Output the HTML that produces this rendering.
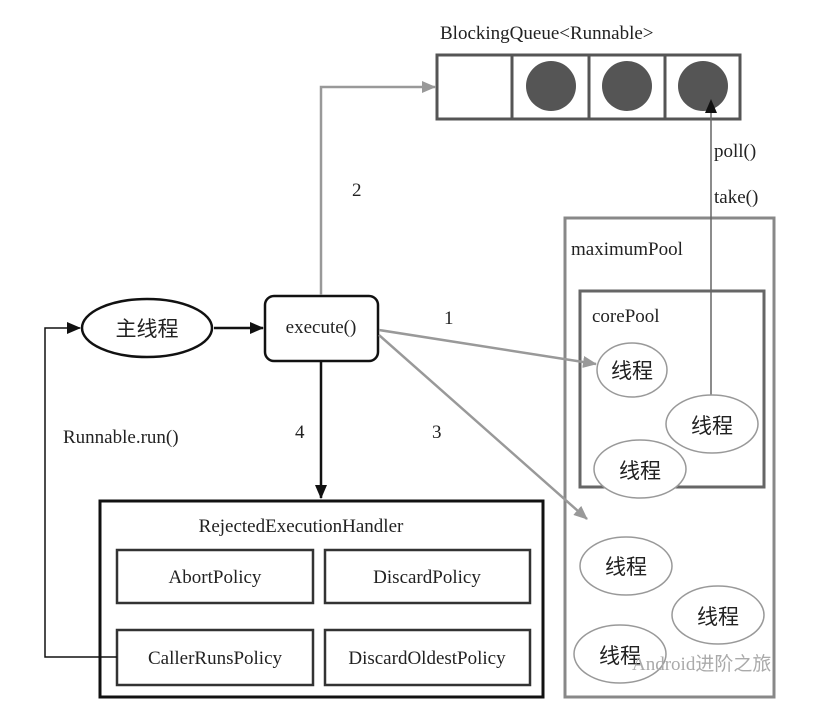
<!DOCTYPE html>
<html><head><meta charset="utf-8"><style>
html,body{margin:0;padding:0;background:#fff;}
svg{display:block;}
text{font-family:"Liberation Serif","Noto Serif CJK SC",serif;fill:#222;}
.cj{font-family:"Liberation Serif","Noto Sans CJK SC",sans-serif;}
</style></head><body>
<svg width="815" height="702" viewBox="0 0 815 702" xmlns="http://www.w3.org/2000/svg">
<defs>
<marker id="ab" markerWidth="14" markerHeight="12" refX="13" refY="6" orient="auto" markerUnits="userSpaceOnUse"><path d="M0,0 L14,6 L0,12 z" fill="#111"/></marker>
<marker id="ag" markerWidth="14" markerHeight="12" refX="13" refY="6" orient="auto" markerUnits="userSpaceOnUse"><path d="M0,0 L14,6 L0,12 z" fill="#999"/></marker>
</defs>
<text x="440" y="39" font-size="19">BlockingQueue&lt;Runnable&gt;</text>
<rect x="437" y="55" width="303" height="64" fill="none" stroke="#555" stroke-width="3"/>
<line x1="512" y1="55" x2="512" y2="119" stroke="#555" stroke-width="3"/>
<line x1="589" y1="55" x2="589" y2="119" stroke="#555" stroke-width="3"/>
<line x1="665" y1="55" x2="665" y2="119" stroke="#555" stroke-width="3"/>
<circle cx="551" cy="86" r="25" fill="#555"/>
<circle cx="627" cy="86" r="25" fill="#555"/>
<circle cx="703" cy="86" r="25" fill="#555"/>
<rect x="565" y="218" width="209" height="479" fill="none" stroke="#888" stroke-width="3"/>
<text x="571" y="255" font-size="19">maximumPool</text>
<rect x="580" y="291" width="184" height="196" fill="none" stroke="#666" stroke-width="3"/>
<text x="592" y="322" font-size="19">corePool</text>
<line x1="711" y1="400" x2="711" y2="100" stroke="#666" stroke-width="1.5" marker-end="url(#ab)"/>
<text x="714" y="157" font-size="19">poll()</text>
<text x="714" y="203" font-size="19">take()</text>
<g fill="#fff" stroke="#999" stroke-width="1.5">
<ellipse cx="632" cy="370" rx="35" ry="27"/>
<ellipse cx="712" cy="424" rx="46" ry="29"/>
<ellipse cx="640" cy="469" rx="46" ry="29"/>
<ellipse cx="626" cy="566" rx="46" ry="29"/>
<ellipse cx="718" cy="615" rx="46" ry="29"/>
<ellipse cx="620" cy="654" rx="46" ry="29"/>
</g>
<g font-size="21" text-anchor="middle">
<text x="632" y="378" class="cj">线程</text>
<text x="712" y="433" class="cj">线程</text>
<text x="640" y="478" class="cj">线程</text>
<text x="626" y="574" class="cj">线程</text>
<text x="718" y="624" class="cj">线程</text>
<text x="620" y="663" class="cj">线程</text>
</g>
<text x="632" y="670" font-size="19" class="cj" style="fill:#aaa">Android进阶之旅</text>
<ellipse cx="147" cy="328" rx="65" ry="29" fill="#fff" stroke="#111" stroke-width="2.5"/>
<text x="147" y="336" font-size="21" text-anchor="middle" class="cj">主线程</text>
<line x1="214" y1="328" x2="263" y2="328" stroke="#111" stroke-width="2.5" marker-end="url(#ab)"/>
<rect x="265" y="296" width="113" height="65" rx="9" fill="#fff" stroke="#111" stroke-width="2.5"/>
<text x="321" y="333" font-size="19" text-anchor="middle">execute()</text>
<polyline points="321,295 321,87 435,87" fill="none" stroke="#999" stroke-width="2.5" marker-end="url(#ag)"/>
<text x="352" y="196" font-size="19">2</text>
<line x1="379" y1="330" x2="596" y2="364" stroke="#999" stroke-width="2.5" marker-end="url(#ag)"/>
<text x="444" y="324" font-size="19">1</text>
<line x1="379" y1="335" x2="587" y2="519" stroke="#999" stroke-width="2.5" marker-end="url(#ag)"/>
<text x="432" y="438" font-size="19">3</text>
<line x1="321" y1="362" x2="321" y2="498" stroke="#111" stroke-width="2.5" marker-end="url(#ab)"/>
<text x="295" y="438" font-size="19">4</text>
<text x="63" y="443" font-size="19">Runnable.run()</text>
<rect x="100" y="501" width="443" height="196" fill="none" stroke="#111" stroke-width="3"/>
<text x="301" y="532" font-size="19" text-anchor="middle">RejectedExecutionHandler</text>
<g fill="none" stroke="#333" stroke-width="2.5">
<rect x="117" y="550" width="196" height="53"/>
<rect x="325" y="550" width="205" height="53"/>
<rect x="117" y="630" width="196" height="55"/>
<rect x="325" y="630" width="205" height="55"/>
</g>
<g font-size="19" text-anchor="middle">
<text x="215" y="583">AbortPolicy</text>
<text x="427" y="583">DiscardPolicy</text>
<text x="215" y="664">CallerRunsPolicy</text>
<text x="427" y="664">DiscardOldestPolicy</text>
</g>
<polyline points="117,657 45,657 45,328 80,328" fill="none" stroke="#111" stroke-width="1.5" marker-end="url(#ab)"/>
</svg>
</body></html>
